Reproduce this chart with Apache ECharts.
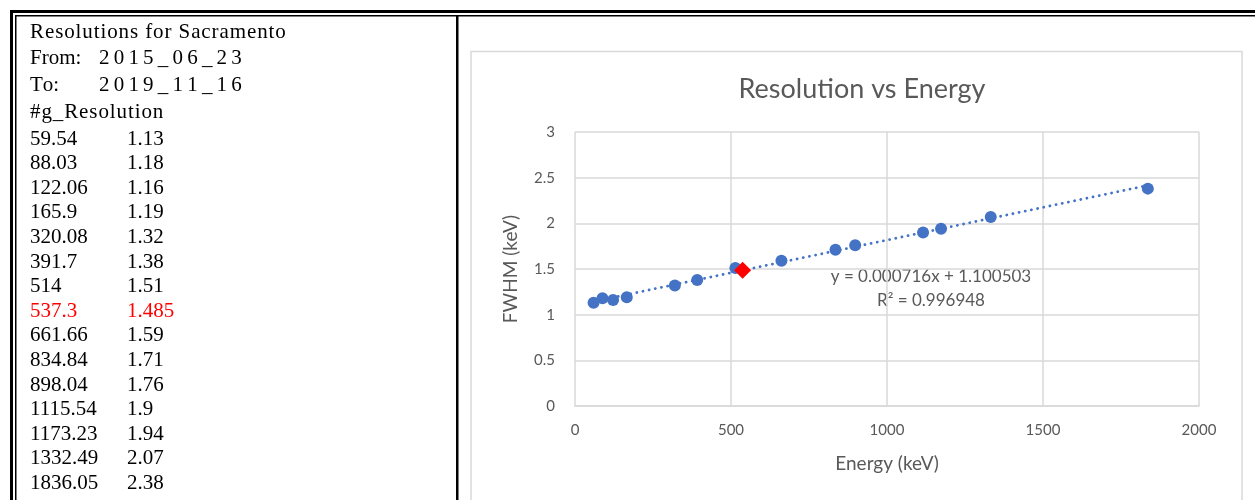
<!DOCTYPE html>
<html>
<head>
<meta charset="utf-8">
<script src="https://cdn.jsdelivr.net/npm/echarts@6/dist/echarts.min.js"></script>
<style>
  html, body { margin: 0; padding: 0; background: #fff; }
  #main { width: 1255px; height: 500px; }
</style>
</head>
<body>
<div id="main"></div>
<script>
// blue points in the chart
var energy = [59.54, 88.03, 122.06, 165.9, 320.08, 391.7, 514, 661.66, 834.84, 898.04, 1115.54, 1173.23, 1332.49, 1836.05];
var fwhm = [1.13, 1.18, 1.16, 1.19, 1.32, 1.38, 1.51, 1.59, 1.71, 1.76, 1.9, 1.94, 2.07, 2.38];
// the red one
var markEnergy = [537.3];
var markFwhm = [1.485];
var markRow = 7;
// trendline ends, from the fitted equation
var trendX = [59.54, 1836.05];
var trendY = [1.143, 2.415];
var xTicks = [0, 500, 1000, 1500, 2000];
var yTicks = [0, 0.5, 1, 1.5, 2, 2.5, 3];
var headLines = [['Resolutions for Sacramento', ''], ['From:', '2015_06_23'], ['To:', '2019_11_16'], ['#g_Resolution', '']];
var equation = 'y = 0.000716x + 1.100503';
var rSquared = 'R² = 0.996948';

var myChart = echarts.init(document.getElementById('main'));

var serif = '21px "Liberation Serif", "Times New Roman", serif';
var gray = '#595959';
var blue = '#4472C4';

// the header lines of the table are set a bit looser than the numbers
var ctx = document.createElement('canvas').getContext('2d');
ctx.font = serif;
function spaced(str, x, y, gap, col) {
    var out = [];
    for (var i = 0; i < str.length; i++) {
        out.push({ type: 'text', style: { x: x, y: y, text: str[i], font: serif, fill: col, textVerticalAlign: 'middle' } });
        x += ctx.measureText(str[i]).width + gap;
    }
    return out;
}

var texts = [];
var headGap = [0.9, 0, 0, 0.9];
headLines.forEach(function (h, i) {
    var y = 32 + i * 26.8;
    texts = texts.concat(spaced(h[0], 30, y, headGap[i], '#000'));
    if (h[1]) {
        texts = texts.concat(spaced(h[1], 99, y, 4.2, '#000'));
    }
});
var rowsE = energy.slice(), rowsF = fwhm.slice();
rowsE.splice(markRow, 0, markEnergy[0]);
rowsF.splice(markRow, 0, markFwhm[0]);
rowsE.forEach(function (e, i) {
    var y = 139 + i * 24.6;
    var col = i === markRow ? '#FF0000' : '#000';
    texts.push({ type: 'text', style: { x: 30, y: y, text: String(e), font: serif, fill: col, textVerticalAlign: 'middle' } });
    texts.push({ type: 'text', style: { x: 127, y: y, text: String(rowsF[i]), font: serif, fill: col, textVerticalAlign: 'middle' } });
});

var borders = [
    { type: 'rect', shape: { x: 10, y: 10, width: 1260, height: 3 }, style: { fill: '#000' } },
    { type: 'rect', shape: { x: 15, y: 15, width: 1260, height: 1.5 }, style: { fill: '#000' } },
    { type: 'rect', shape: { x: 10, y: 10, width: 3, height: 500 }, style: { fill: '#000' } },
    { type: 'rect', shape: { x: 15, y: 15, width: 1.5, height: 500 }, style: { fill: '#000' } },
    { type: 'rect', shape: { x: 456, y: 16, width: 2.5, height: 500 }, style: { fill: '#000' } },
    { type: 'rect', shape: { x: 471, y: 51.5, width: 771, height: 470 }, style: { fill: 'none', stroke: '#d9d9d9', lineWidth: 1.5 } }
];

var eqText = [
    { type: 'text', style: { x: 931, y: 277, text: equation, font: '17px Lato, sans-serif', fill: gray, textAlign: 'center', textVerticalAlign: 'middle' } },
    { type: 'text', style: { x: 931, y: 301, text: rSquared, font: '17px Lato, sans-serif', fill: gray, textAlign: 'center', textVerticalAlign: 'middle' } }
];

option = {
    animation: false,
    backgroundColor: '#fff',
    title: {
        text: 'Resolution vs Energy',
        left: 857,
        top: 71,
        textAlign: 'center',
        textStyle: { fontFamily: 'Lato', fontSize: 27, fontWeight: 'normal', color: gray }
    },
    grid: { left: 575, right: 56, top: 132, bottom: 94 },
    xAxis: {
        type: 'value',
        min: xTicks[0],
        max: xTicks[xTicks.length - 1],
        interval: xTicks[1] - xTicks[0],
        name: 'Energy (keV)',
        nameLocation: 'middle',
        nameGap: 48,
        nameTextStyle: { fontFamily: 'Lato', fontSize: 19, color: gray },
        axisLine: { show: true, lineStyle: { color: '#d9d9d9', width: 1.5 } },
        axisTick: { show: false },
        axisLabel: { margin: 17, fontFamily: 'Lato', fontSize: 15, color: gray, formatter: function (v) { return String(v); } },
        splitLine: { show: true, lineStyle: { color: '#d9d9d9', width: 1.5 } }
    },
    yAxis: {
        type: 'value',
        min: yTicks[0],
        max: yTicks[yTicks.length - 1],
        interval: yTicks[1] - yTicks[0],
        name: 'FWHM (keV)',
        nameLocation: 'middle',
        nameGap: 55,
        nameTextStyle: { fontFamily: 'Lato', fontSize: 19, color: gray },
        axisLine: { show: false },
        axisTick: { show: false },
        axisLabel: { margin: 20, fontFamily: 'Lato', fontSize: 15, color: gray },
        splitLine: { show: true, lineStyle: { color: '#d9d9d9', width: 1.5 } }
    },
    series: [{
        name: 'trend',
        type: 'line',
        data: trendX.map(function (x, i) { return [x, trendY[i]]; }),
        showSymbol: false,
        lineStyle: { color: blue, width: 2.8, type: [0.1, 6.2], cap: 'round' },
        z: 3
    }, {
        name: 'FWHM',
        type: 'scatter',
        data: energy.map(function (x, i) { return [x, fwhm[i]]; }),
        symbolSize: 12,
        itemStyle: { color: blue, opacity: 1 },
        z: 4
    }, {
        name: 'marked',
        type: 'scatter',
        symbol: 'diamond',
        data: markEnergy.map(function (x, i) { return [x, markFwhm[i]]; }),
        symbolSize: 17,
        itemStyle: { color: '#FF0000', opacity: 1 },
        z: 5
    }],
    graphic: borders.concat(texts, eqText)
};

myChart.setOption(option);
</script>
</body>
</html>
